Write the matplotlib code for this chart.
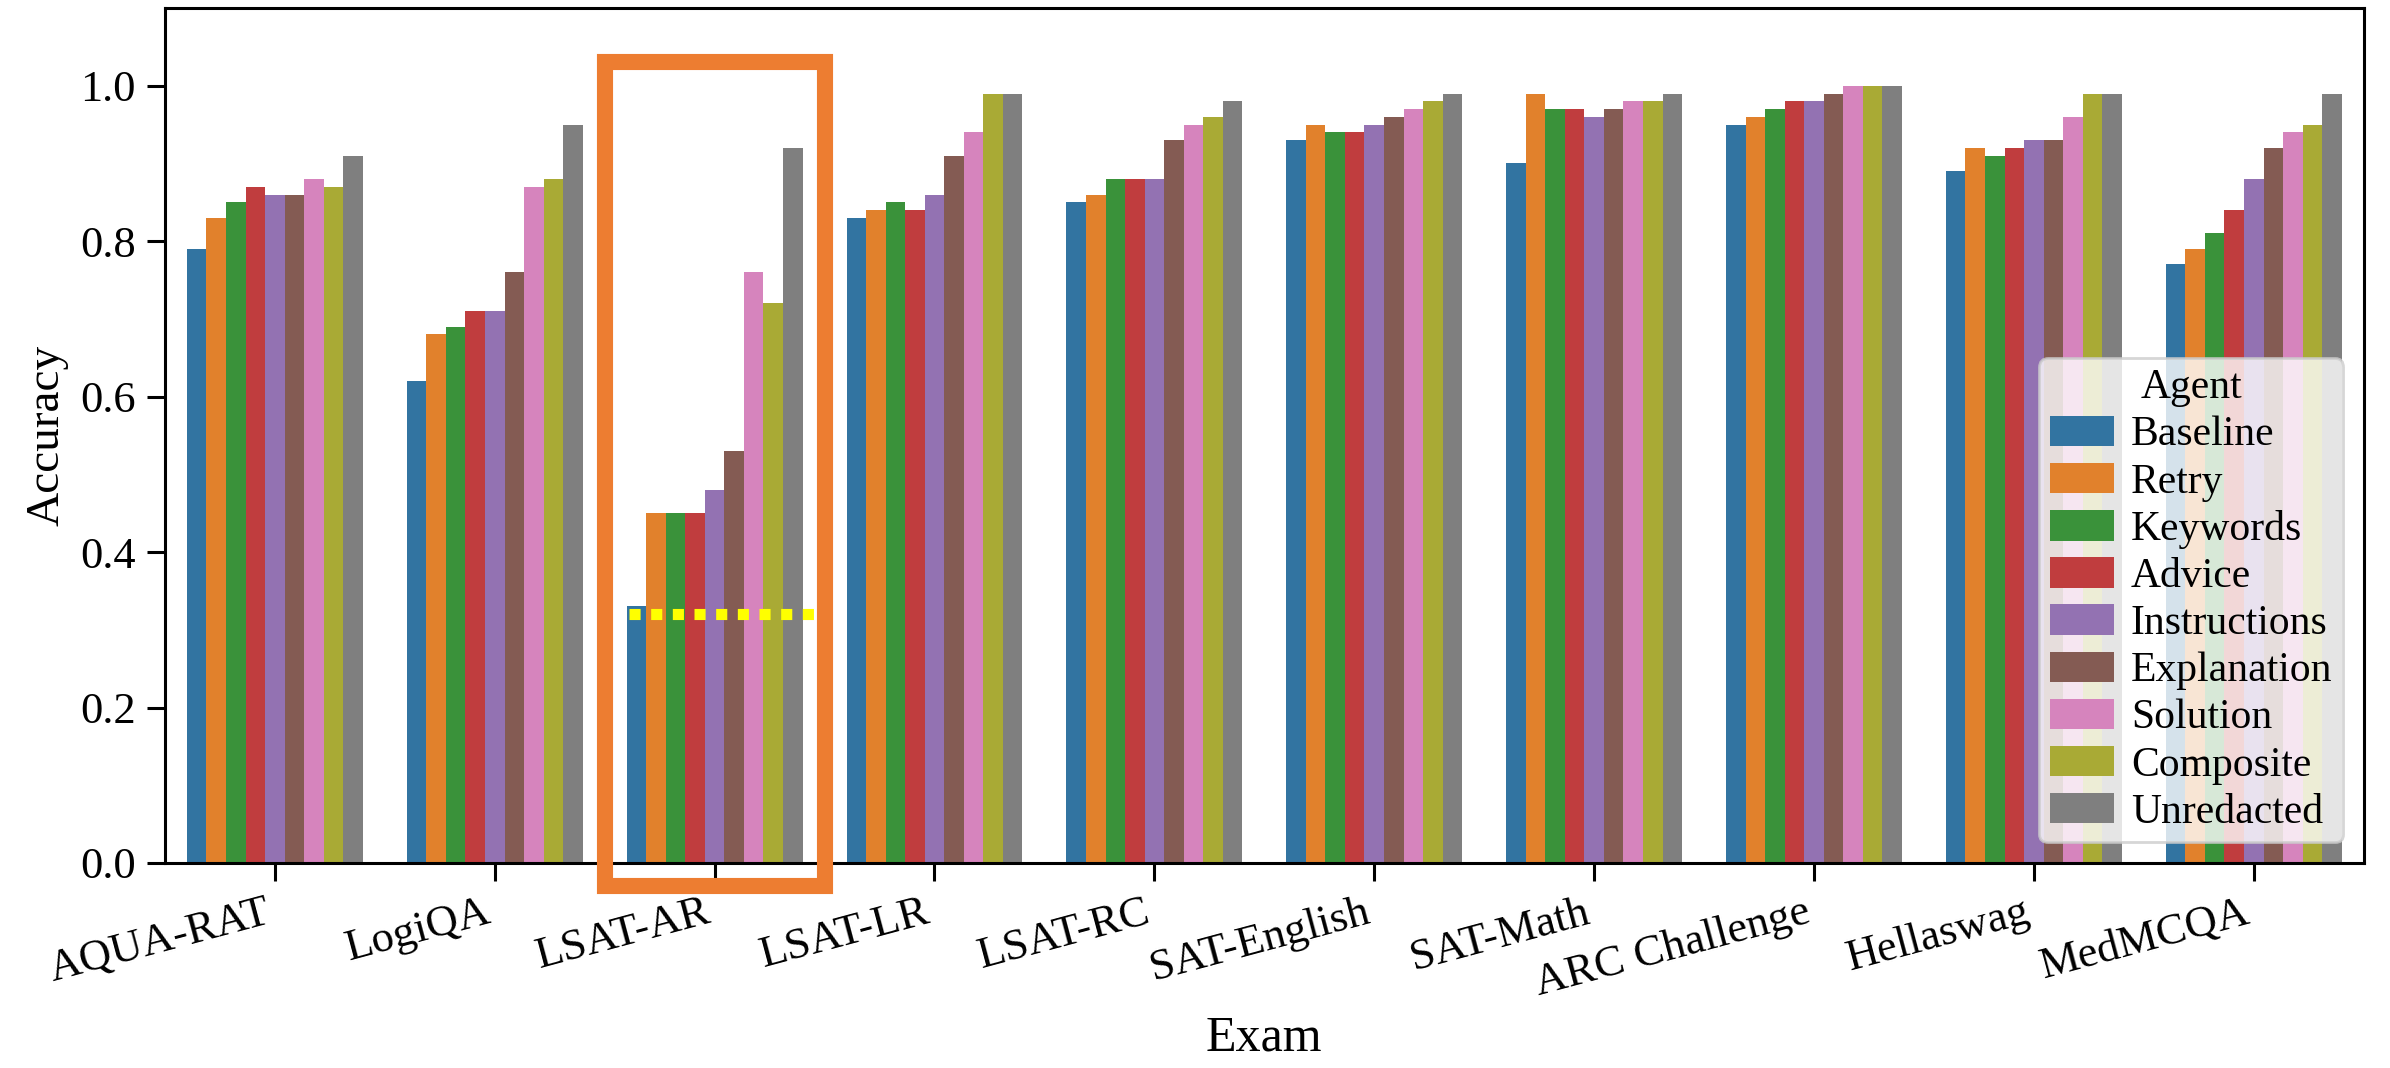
import numpy as np
import matplotlib
matplotlib.use("Agg")
import matplotlib.pyplot as plt
from matplotlib.patches import Rectangle

plt.rcParams["font.family"] = ["Liberation Serif", "DejaVu Serif"]

exams = ["AQUA-RAT", "LogiQA", "LSAT-AR", "LSAT-LR", "LSAT-RC",
         "SAT-English", "SAT-Math", "ARC Challenge", "Hellaswag", "MedMCQA"]
agents = ["Baseline", "Retry", "Keywords", "Advice", "Instructions",
          "Explanation", "Solution", "Composite", "Unredacted"]
colors = ["#3274a1", "#e1812c", "#3a923a", "#c03d3e", "#9372b2",
          "#845b53", "#d684bd", "#a9aa35", "#7f7f7f"]

# accuracy per agent, one value per exam (same order as `exams`)
baseline     = [0.79, 0.62, 0.33, 0.83, 0.85, 0.93, 0.90, 0.95, 0.89, 0.77]
retry        = [0.83, 0.68, 0.45, 0.84, 0.86, 0.95, 0.99, 0.96, 0.92, 0.79]
keywords     = [0.85, 0.69, 0.45, 0.85, 0.88, 0.94, 0.97, 0.97, 0.91, 0.81]
advice       = [0.87, 0.71, 0.45, 0.84, 0.88, 0.94, 0.97, 0.98, 0.92, 0.84]
instructions = [0.86, 0.71, 0.48, 0.86, 0.88, 0.95, 0.96, 0.98, 0.93, 0.88]
explanation  = [0.86, 0.76, 0.53, 0.91, 0.93, 0.96, 0.97, 0.99, 0.93, 0.92]
solution     = [0.88, 0.87, 0.76, 0.94, 0.95, 0.97, 0.98, 1.00, 0.96, 0.94]
composite    = [0.87, 0.88, 0.72, 0.99, 0.96, 0.98, 0.98, 1.00, 0.99, 0.95]
unredacted   = [0.91, 0.95, 0.92, 0.99, 0.98, 0.99, 0.99, 1.00, 0.99, 0.99]
series = [baseline, retry, keywords, advice, instructions,
          explanation, solution, composite, unredacted]

chance = 0.32          # dotted line in the LSAT-AR group
box_exam = "LSAT-AR"   # highlighted group

fig = plt.figure(figsize=(11.95, 5.34), dpi=200)
ax = fig.add_axes([0.069, 0.192, 0.920, 0.8005])

x = np.arange(len(exams))
w = 0.8 / len(agents)
for j, (name, vals, c) in enumerate(zip(agents, series, colors)):
    ax.bar(x - 0.4 + w * (j + 0.5), vals, w, color=c, label=name, linewidth=0)

ax.set_xlim(-0.5, len(exams) - 0.5)
ax.set_ylim(0, 1.1)
ax.set_yticks([0.0, 0.2, 0.4, 0.6, 0.8, 1.0])
ax.set_xticks(x)
ax.set_xticklabels(exams, rotation=15, ha="right")
ax.tick_params(labelsize=16, length=6.5, width=1.1, pad=4)
for s in ax.spines.values():
    s.set_linewidth(1.1)
ax.set_xlabel("Exam", fontsize=18)
ax.set_ylabel("Accuracy", fontsize=17)

# highlight box + dotted line on LSAT-AR
k = exams.index(box_exam)
ax.add_patch(Rectangle((k - 0.5, -0.03), 1.0, 1.06, fill=False,
                       edgecolor="#ed7d31", linewidth=5.8, clip_on=False, zorder=5))
ax.hlines(chance, k - 0.39, k + 0.46, colors="#ffff00", linewidth=4,
          linestyles=(0, (1, 0.95)), zorder=6)

leg = ax.legend(title="Agent", loc="lower right", fontsize=15, title_fontsize=15,
                handlelength=1.55, handleheight=0.75, handletextpad=0.4,
                borderpad=0.25, labelspacing=0.2, borderaxespad=0.5)

fig.savefig("out.png", dpi=200)
